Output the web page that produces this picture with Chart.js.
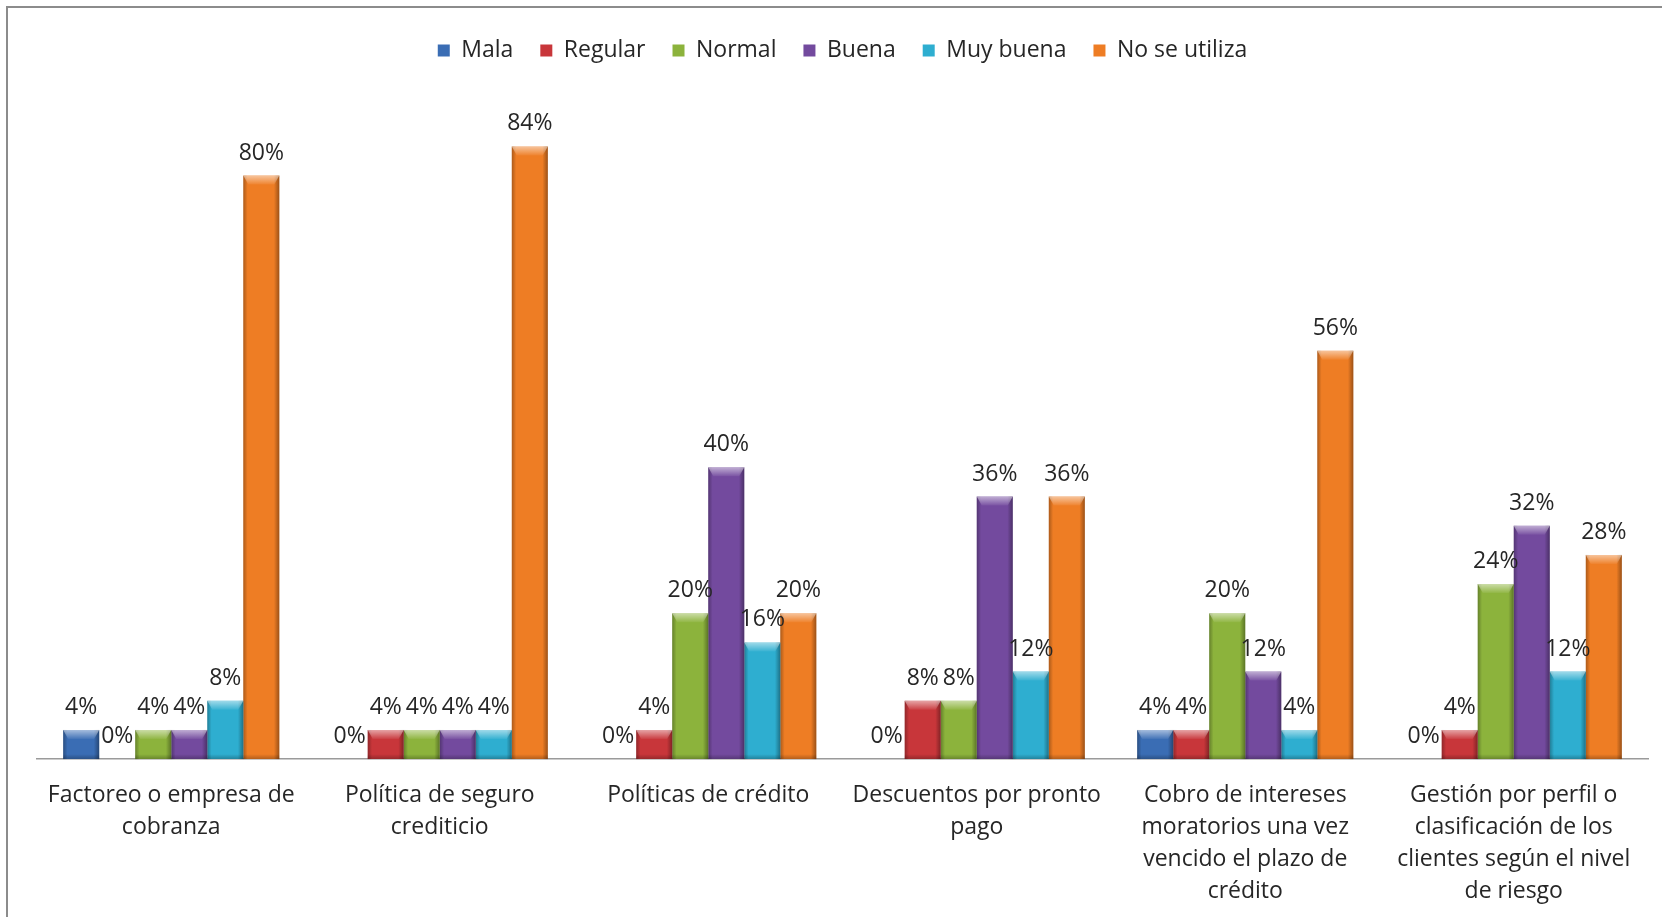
<!DOCTYPE html>
<html>
<head>
<meta charset="utf-8">
<script src="https://cdn.jsdelivr.net/npm/chart.js@4/dist/chart.umd.min.js"></script>
<style>
    html, body { margin: 0; padding: 0; background: #fff; overflow: hidden; }
    #frame { position: absolute; left: 6px; top: 6px; width: 1700px; height: 1000px; border: 2px solid #8c8c8c; }
    #wrap { position: absolute; left: 0; top: 0; width: 1662px; height: 917px; }
</style>
</head>
<body>
<div id="frame"></div>
<div id="wrap"><canvas id="chart"></canvas></div>
<script>
const categories = [
    ['Factoreo o empresa de', 'cobranza'],
    ['Política de seguro', 'crediticio'],
    ['Políticas de crédito'],
    ['Descuentos por pronto', 'pago'],
    ['Cobro de intereses', 'moratorios una vez', 'vencido el plazo de', 'crédito'],
    ['Gestión por perfil o', 'clasificación de los', 'clientes según el nivel', 'de riesgo']
];
const mala = [4, 0, 0, 0, 4, 0];
const regular = [0, 4, 4, 8, 4, 4];
const normal = [4, 4, 20, 8, 20, 24];
const buena = [4, 4, 40, 36, 12, 32];
const muyBuena = [8, 4, 16, 12, 4, 12];
const noSeUtiliza = [80, 84, 20, 36, 56, 28];

const FONT = '"Open Sans", Lato, sans-serif';

// Bevel highlight on top of each bar, plus darker edges
const bevelPlugin = {
    id: 'bevelPlugin',
    afterDatasetsDraw: (chart) => {
        const ctx = chart.ctx;
        chart.data.datasets.forEach((ds, i) => {
            const meta = chart.getDatasetMeta(i);
            meta.data.forEach((bar) => {
                const left = bar.x - bar.width / 2;
                const right = bar.x + bar.width / 2;
                const top = bar.y;
                const h = bar.base - bar.y;
                if (h < 1) return;
                ctx.save();
                // side shading
                const side = ctx.createLinearGradient(left, 0, right, 0);
                side.addColorStop(0, 'rgba(0,0,0,0.28)');
                side.addColorStop(0.12, 'rgba(0,0,0,0)');
                side.addColorStop(0.85, 'rgba(0,0,0,0)');
                side.addColorStop(1, 'rgba(0,0,0,0.35)');
                ctx.fillStyle = side;
                ctx.fillRect(left, top, right - left, h);
                // top bevel
                const bh = Math.min(9, h);
                const topGrad = ctx.createLinearGradient(0, top, 0, top + bh);
                topGrad.addColorStop(0, 'rgba(255,255,255,0.55)');
                topGrad.addColorStop(1, 'rgba(255,255,255,0.05)');
                ctx.fillStyle = topGrad;
                ctx.beginPath();
                ctx.moveTo(left, top);
                ctx.lineTo(right, top);
                ctx.lineTo(right - 5, top + bh);
                ctx.lineTo(left + 5, top + bh);
                ctx.closePath();
                ctx.fill();
                // bottom shading
                const bot = ctx.createLinearGradient(0, bar.base - 5, 0, bar.base);
                bot.addColorStop(0, 'rgba(0,0,0,0)');
                bot.addColorStop(1, 'rgba(0,0,0,0.25)');
                ctx.fillStyle = bot;
                ctx.fillRect(left, Math.max(top, bar.base - 5), right - left, Math.min(5, h));
                ctx.restore();
            });
        });
    }
};

// Percentage label above each bar
const valueLabelPlugin = {
    id: 'valueLabelPlugin',
    afterDatasetsDraw: (chart) => {
        const ctx = chart.ctx;
        ctx.save();
        ctx.font = '23px ' + FONT;
        ctx.fillStyle = '#262626';
        ctx.textAlign = 'center';
        ctx.textBaseline = 'alphabetic';
        chart.data.datasets.forEach((ds, i) => {
            const meta = chart.getDatasetMeta(i);
            meta.data.forEach((bar, j) => {
                ctx.fillText(ds.data[j] + '%', bar.x, bar.y - 16);
            });
        });
        ctx.restore();
    }
};

const series = [
    { label: 'Mala', data: mala, color: '#3a6db4' },
    { label: 'Regular', data: regular, color: '#c8363a' },
    { label: 'Normal', data: normal, color: '#8cb33c' },
    { label: 'Buena', data: buena, color: '#734a9e' },
    { label: 'Muy buena', data: muyBuena, color: '#2eaed0' },
    { label: 'No se utiliza', data: noSeUtiliza, color: '#ee7d24' }
];

const chartCtx = document.getElementById('chart').getContext('2d');
const chart = new Chart(chartCtx, {
    type: 'bar',
    data: {
        labels: categories,
        datasets: series.map(s => ({
            label: s.label,
            data: s.data,
            backgroundColor: s.color,
            borderWidth: 0,
            barPercentage: 1,
            categoryPercentage: 0.805
        }))
    },
    options: {
        responsive: true,
        maintainAspectRatio: false,
        animation: false,
        layout: {
            padding: { left: 37, right: 14, top: 12, bottom: -10 }
        },
        scales: {
            x: {
                grid: { display: false, drawTicks: false },
                border: { display: true, color: '#9a9a9a', width: 1.5 },
                ticks: {
                    font: { family: FONT, size: 23, lineHeight: 1.39 },
                    color: '#262626',
                    padding: 20,
                    maxRotation: 0,
                    autoSkip: false
                }
            },
            y: {
                display: false,
                min: 0,
                max: 94.2
            }
        },
        plugins: {
            legend: {
                display: true,
                position: 'top',
                labels: {
                    boxWidth: 12,
                    boxHeight: 12,
                    padding: 27,
                    color: '#262626',
                    font: { family: FONT, size: 23 }
                }
            },
            tooltip: { enabled: false }
        }
    },
    plugins: [bevelPlugin, valueLabelPlugin]
});
</script>
</body>
</html>
